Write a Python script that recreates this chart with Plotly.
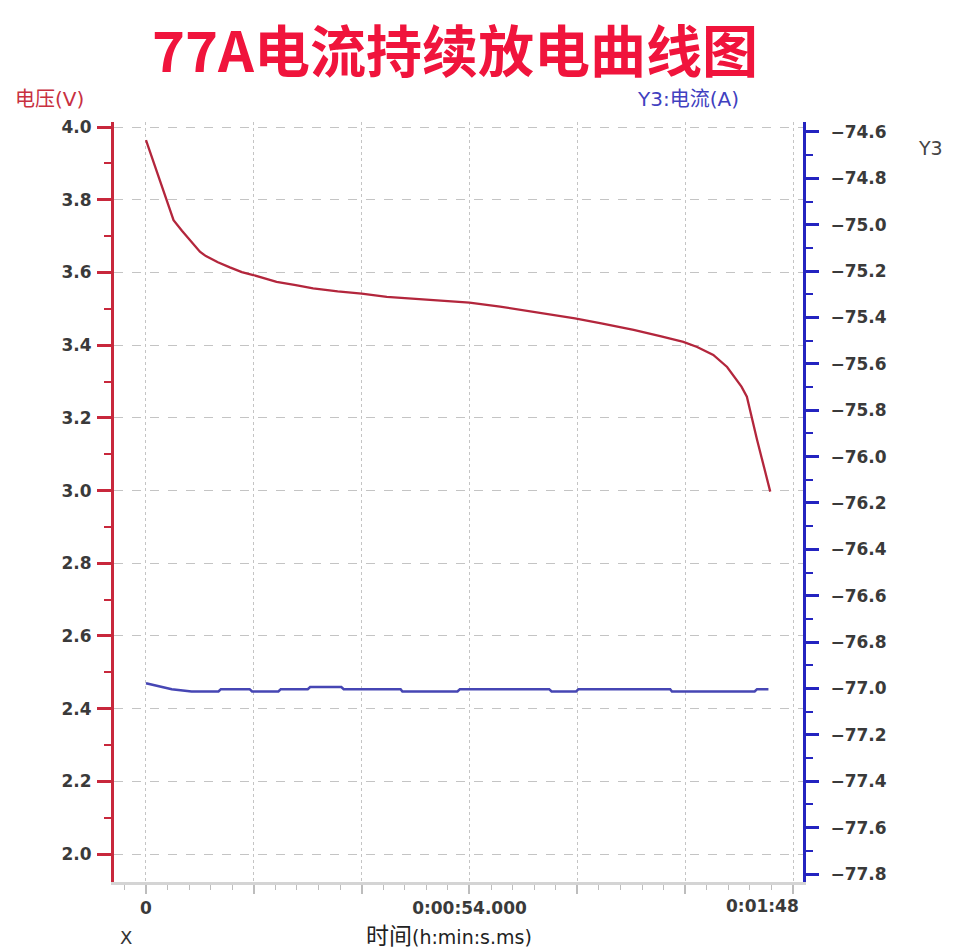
import plotly.graph_objects as go

# ---- data ----
time_v = [0, 4.6, 6, 7, 8, 9, 10, 12, 14, 15.1, 16, 17.9, 20, 21.8, 25, 27.9, 32, 36, 40.2,
          45, 50, 54, 59.1, 65, 71.6, 76, 81.4, 86, 89.7, 92, 94.7, 97, 99.4, 100.3, 102, 104.2]
voltage = [3.964, 3.744, 3.715, 3.695, 3.675, 3.657, 3.645, 3.628, 3.614, 3.607, 3.601, 3.593,
           3.583, 3.574, 3.565, 3.556, 3.548, 3.542, 3.533, 3.528, 3.521, 3.517, 3.506, 3.491,
           3.474, 3.460, 3.442, 3.424, 3.409, 3.395, 3.373, 3.340, 3.286, 3.258, 3.140, 2.997]

time_i = [0, 4.3, 7.6, 12.1, 12.5, 17.3, 17.7, 22.1, 22.5, 27.0, 27.4, 32.6, 33.0, 42.5, 42.8,
          52.0, 52.4, 67.3, 67.7, 71.8, 72.2, 87.5, 87.8, 101.6, 102.0, 103.9]
current = [-76.977, -77.003, -77.013, -77.013, -77.003, -77.003, -77.013, -77.013, -77.003,
           -77.003, -76.994, -76.994, -77.003, -77.003, -77.013, -77.013, -77.003, -77.003,
           -77.013, -77.013, -77.003, -77.003, -77.013, -77.013, -77.003, -77.003]

x_tickvals = [0, 18, 36, 54, 72, 90, 108]
x_ticktext = ["0", "", "", "0:00:54.000", "", "", ""]
x_last_label = "0:01:48"

title_text = "77A电流持续放电曲线图"
ylabel_left = "电压(V)"
ylabel_right = "Y3:电流(A)"

# ---- geometry (page pixels; the page body adds an 8px offset) ----
OFF = 8
W, H = 960 - OFF, 950 - OFF
L, R, T, B = 114, 803, 122, 882


def px(x):
    return (x - L) / (R - L)


def py(y):
    return (B - y) / (B - T)


RED_AX = "#c8283c"
RED_LINE = "#b3263c"
BLUE_AX = "#2424c0"
BLUE_LINE = "#4646b4"
GRID = "#c4c4c4"
TICKFONT = dict(family="DejaVu Sans, sans-serif", size=17, color="#3a3a3a", weight="bold")
CJK = "DejaVu Sans, Noto Sans CJK SC, sans-serif"

fig = go.Figure()
fig.add_trace(go.Scatter(x=time_v, y=voltage, mode="lines",
                         line=dict(color=RED_LINE, width=2.3), yaxis="y", showlegend=False))
fig.add_trace(go.Scatter(x=time_i, y=current, mode="lines",
                         line=dict(color=BLUE_LINE, width=2.5), yaxis="y2", showlegend=False))

fig.update_layout(
    width=W, height=H,
    margin=dict(l=L - OFF, r=W - (R - OFF), t=T - OFF, b=H - (B - OFF), pad=0),
    paper_bgcolor="white", plot_bgcolor="white",
    xaxis=dict(
        range=[-5.34, 109.67], tickmode="array", tickvals=x_tickvals, ticktext=x_ticktext,
        showgrid=True, gridcolor=GRID, griddash="dot", gridwidth=1.3,
        showline=True, linecolor="#d4d4d4", linewidth=3,
        ticks="outside", ticklen=9, tickwidth=1.5, tickcolor="#bdbdbd",
        minor=dict(dtick=3.6, tick0=0, ticks="outside", ticklen=5, tickwidth=1.2,
                   tickcolor="#bdbdbd", showgrid=False),
        tickfont=TICKFONT, zeroline=False, fixedrange=True,
    ),
    yaxis=dict(
        range=[1.923, 4.014], tickmode="linear", tick0=2.0, dtick=0.2, tickformat=".1f",
        showgrid=True, gridcolor=GRID, griddash="dash", gridwidth=1.2,
        showline=True, linecolor=RED_AX, linewidth=3,
        ticks="outside", ticklen=14, tickwidth=2.5, tickcolor=RED_AX,
        minor=dict(dtick=0.1, tick0=2.0, ticks="outside", ticklen=7, tickwidth=2,
                   tickcolor=RED_AX, showgrid=False),
        tickfont=TICKFONT, zeroline=False, ticklabelstandoff=2,
    ),
    yaxis2=dict(
        overlaying="y", side="right", anchor="x",
        range=[-77.8345, -74.557], tickmode="linear", tick0=-77.8, dtick=0.2, tickformat=".1f",
        showgrid=False, showline=True, linecolor=BLUE_AX, linewidth=3,
        ticks="outside", ticklen=13, tickwidth=2.5, tickcolor=BLUE_AX,
        minor=dict(dtick=0.1, tick0=-77.8, ticks="outside", ticklen=7, tickwidth=2,
                   tickcolor=BLUE_AX, showgrid=False),
        tickfont=TICKFONT, zeroline=False, ticklabelstandoff=8,
    ),
)

ann = []
ann.append(dict(text="<b>" + title_text + "</b>", x=px(455), y=py(47), xref="paper", yref="paper",
                xanchor="center", yanchor="middle", showarrow=False,
                font=dict(family="Noto Sans CJK SC, sans-serif", size=56, color="#f0143c")))
ann.append(dict(text=ylabel_left, x=px(86), y=py(99), xref="paper", yref="paper",
                xanchor="right", yanchor="middle", showarrow=False,
                font=dict(family=CJK, size=20, color="#c8303f")))
ann.append(dict(text=ylabel_right, x=px(688), y=py(99), xref="paper", yref="paper",
                xanchor="center", yanchor="middle", showarrow=False,
                font=dict(family=CJK, size=20, color="#4040c0")))
ann.append(dict(text="Y3", x=px(930), y=py(148), xref="paper", yref="paper",
                xanchor="center", yanchor="middle", showarrow=False,
                font=dict(family="DejaVu Sans, sans-serif", size=19, color="#444444")))
ann.append(dict(text="X", x=px(126), y=py(937), xref="paper", yref="paper",
                xanchor="center", yanchor="middle", showarrow=False,
                font=dict(family="DejaVu Sans, sans-serif", size=18, color="#333333")))
ann.append(dict(text="<span style='font-size:23px'>时间</span>(h:min:s.ms)", x=px(364), y=py(936),
                xref="paper", yref="paper", xanchor="left", yanchor="middle", showarrow=False,
                font=dict(family=CJK, size=19, color="#222222")))
ann.append(dict(text=x_last_label, x=px(801), y=py(906), xref="paper", yref="paper",
                xanchor="right", yanchor="middle", showarrow=False, font=TICKFONT))
fig.update_layout(annotations=ann)

fig.write_html("out.html")
